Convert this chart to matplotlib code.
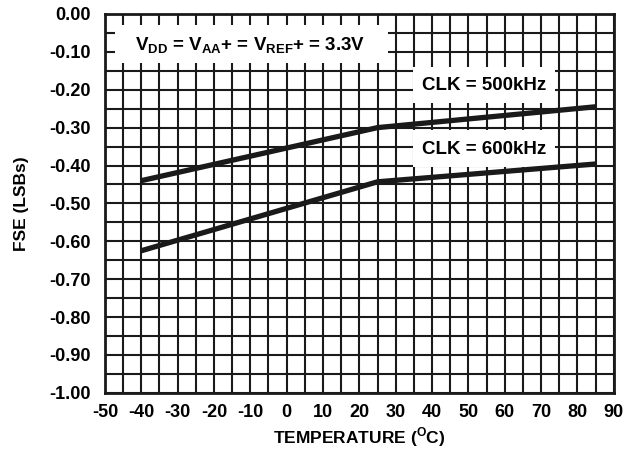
#
# FSE vs temperature for two clock rates.
#

import matplotlib
matplotlib.use('Agg')
import matplotlib.pyplot as plt
from matplotlib.patches import Rectangle
import numpy as np

plt.rcParams['font.family'] = 'Liberation Sans'
plt.rcParams['font.weight'] = 'bold'
plt.rcParams['axes.labelweight'] = 'bold'
plt.rcParams['mathtext.fontset'] = 'custom'
plt.rcParams['mathtext.rm'] = 'Liberation Sans:bold'
plt.rcParams['mathtext.bf'] = 'Liberation Sans:bold'

temp = [-40, 25, 85]
fse_500k = [-0.44, -0.30, -0.245]
fse_600k = [-0.625, -0.443, -0.396]

x_ticks = np.arange(-50, 91, 10)
y_ticks = np.arange(-1.0, 0.001, 0.1)

fig = plt.figure(figsize=(6.36, 4.5), dpi=100)
ax = fig.add_axes([0.165, 0.127, 0.8, 0.842])

ax.set_xlim(-50, 90)
ax.set_ylim(-1.0, 0.0)
ax.set_xticks(x_ticks)
ax.set_yticks(y_ticks)
ax.set_xticks(np.arange(-50, 91, 5), minor=True)
ax.set_yticks(np.arange(-1.0, 0.001, 0.05), minor=True)
ax.set_xticklabels([str(v) for v in x_ticks])
ax.set_yticklabels(['%.2f' % v if abs(v) > 1e-9 else '0.00' for v in y_ticks])
ax.tick_params(which='both', length=0, labelsize=13)
ax.tick_params(axis='y', pad=10)
ax.tick_params(axis='x', pad=8)
ax.grid(which='both', color='#1a1a1a', linewidth=1.5, zorder=1)
ax.set_axisbelow(True)
for s in ax.spines.values():
    s.set_linewidth(2)
    s.set_color('#1a1a1a')
    s.set_zorder(5)

ax.plot(temp, fse_500k, color='#1a1a1a', linewidth=3.8, solid_capstyle='butt', zorder=4)
ax.plot(temp, fse_600k, color='#1a1a1a', linewidth=3.8, solid_capstyle='butt', zorder=4)

# white label boxes hiding the grid
ax.add_patch(Rectangle((-47.3, -0.13), 75.1, 0.10, facecolor='white', edgecolor='none', zorder=3))
ax.add_patch(Rectangle((34.7, -0.235), 39.1, 0.095, facecolor='white', edgecolor='none', zorder=3))
ax.add_patch(Rectangle((34.7, -0.405), 39.1, 0.10, facecolor='white', edgecolor='none', zorder=3))

ax.text(-10, -0.085, r'V$_{\mathrm{DD}}$ = V$_{\mathrm{AA}}$+ = V$_{\mathrm{REF}}$+ = 3.3V',
        ha='center', va='center', fontsize=13.5, zorder=6)
ax.text(54.2, -0.19, 'CLK = 500kHz', ha='center', va='center', fontsize=13.5, zorder=6)
ax.text(54.2, -0.357, 'CLK = 600kHz', ha='center', va='center', fontsize=13.5, zorder=6)

ax.set_xlabel(r'TEMPERATURE ($^{\mathrm{O}}$C)', fontsize=12.5)
ax.set_ylabel('FSE (LSBs)', fontsize=12.5)
ax.xaxis.set_label_coords(0.5, -0.085)
ax.yaxis.set_label_coords(-0.15, 0.5)

fig.savefig('out.png', dpi=100)
